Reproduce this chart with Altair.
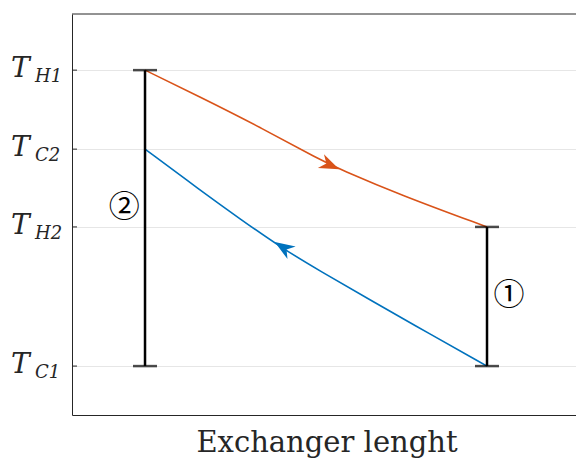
import altair as alt
import pandas as pd

# ---- data ----
pos_hot = [0.0, 0.161, 0.336, 0.512, 0.570, 0.746, 1.0]
temp_hot = [86.0, 79.3, 71.8, 63.6, 61.3, 54.9, 46.9]
pos_cold = [0.0, 0.161, 0.278, 0.395, 0.512, 0.658, 0.833, 1.0]
temp_cold = [66.3, 56.1, 48.9, 41.9, 35.9, 28.7, 20.2, 12.2]

tick_sub = ["H1", "C2", "H2", "C1"]
tick_vals = [86.0, 66.3, 46.9, 12.2]

bar_pos = [0.0, 1.0]
bar_low = [12.2, 12.2]
bar_high = [86.0, 46.9]
bar_label = ["②", "①"]
bar_label_x = [-0.061, 1.064]
bar_label_y = [52.4, 30.4]

arrow_hot = {"x": [0.541], "y": [62.3]}
arrow_cold = {"x": [0.404], "y": [41.8]}

RED = "#D95319"
BLUE = "#0072BD"
AX = "#262626"
SERIF = "DejaVu Serif"

xs = alt.Scale(domain=[-0.2135, 1.2602], nice=False, zero=False)
ys = alt.Scale(domain=[0, 100], nice=False, zero=False)

hot = pd.DataFrame({"x": pos_hot, "y": temp_hot})
cold = pd.DataFrame({"x": pos_cold, "y": temp_cold})
ticks = pd.DataFrame({"sub": tick_sub, "y": tick_vals, "T": ["T"] * len(tick_vals)})
bars = pd.DataFrame({"x": bar_pos, "lo": bar_low, "hi": bar_high})
labels = pd.DataFrame({"x": bar_label_x, "y": bar_label_y, "t": bar_label})
title_df = pd.DataFrame({"t": ["Exchanger lenght"]})

base_x = alt.X("x:Q", scale=xs, axis=alt.Axis(domain=True, domainColor=AX, ticks=False,
                                              labels=False, grid=False, title=None))
base_y = alt.Y("y:Q", scale=ys, axis=alt.Axis(values=tick_vals, domain=True, domainColor=AX,
                                              ticks=False, labels=False, grid=True,
                                              gridColor="#e6e6e6", title=None))

grid = alt.Chart(ticks).mark_point(opacity=0).encode(x=alt.value(0), y=base_y)
xaxis = alt.Chart(hot).mark_point(opacity=0).encode(x=base_x, y=alt.Y("y:Q", scale=ys))

tick_marks = alt.Chart(ticks).mark_rule(color=AX, strokeWidth=1).encode(
    x=alt.value(0), x2=alt.value(5), y=alt.Y("y:Q", scale=ys))
top_line = alt.Chart(title_df).mark_rule(color=AX, strokeWidth=1).encode(
    x=alt.value(0), x2=alt.value(504), y=alt.value(0))

hot_line = alt.Chart(hot).mark_line(color=RED, strokeWidth=1.6, interpolate="basis").encode(
    x=alt.X("x:Q", scale=xs), y=alt.Y("y:Q", scale=ys))
cold_line = alt.Chart(cold).mark_line(color=BLUE, strokeWidth=1.6, interpolate="basis").encode(
    x=alt.X("x:Q", scale=xs), y=alt.Y("y:Q", scale=ys))

ARROW = "M 1 0 L -1 -0.75 L -0.4 0 L -1 0.75 Z"
hot_arrow = alt.Chart(pd.DataFrame(arrow_hot)).mark_point(
    shape=ARROW, size=400, filled=True, color=RED, opacity=1, angle=24).encode(
    x=alt.X("x:Q", scale=xs), y=alt.Y("y:Q", scale=ys))
cold_arrow = alt.Chart(pd.DataFrame(arrow_cold)).mark_point(
    shape=ARROW, size=400, filled=True, color=BLUE, opacity=1, angle=213).encode(
    x=alt.X("x:Q", scale=xs), y=alt.Y("y:Q", scale=ys))

bar_rules = alt.Chart(bars).mark_rule(color="black", strokeWidth=2.5).encode(
    x=alt.X("x:Q", scale=xs), y=alt.Y("lo:Q", scale=ys), y2="hi:Q")
cap_lo = alt.Chart(bars).mark_tick(color="black", orient="horizontal", size=24, thickness=2.5).encode(
    x=alt.X("x:Q", scale=xs), y=alt.Y("lo:Q", scale=ys))
cap_hi = alt.Chart(bars).mark_tick(color="black", orient="horizontal", size=24, thickness=2.5).encode(
    x=alt.X("x:Q", scale=xs), y=alt.Y("hi:Q", scale=ys))

circ = alt.Chart(labels).mark_text(font="Noto Sans CJK JP", fontSize=31, baseline="middle",
                                   align="center", dy=3, color="black").encode(
    x=alt.X("x:Q", scale=xs), y=alt.Y("y:Q", scale=ys), text="t:N")

t_big = alt.Chart(ticks).mark_text(font=SERIF, fontSize=28, fontStyle="italic", align="left",
                                   baseline="alphabetic", dy=7, color=AX).encode(
    x=alt.value(-61), y=alt.Y("y:Q", scale=ys), text="T:N")
t_sub = alt.Chart(ticks).mark_text(font=SERIF, fontSize=18, fontStyle="italic", align="left",
                                   baseline="alphabetic", dy=12, color=AX).encode(
    x=alt.value(-37), y=alt.Y("y:Q", scale=ys), text="sub:N")

xtitle = alt.Chart(title_df).mark_text(font=SERIF, fontSize=29, align="center",
                                       baseline="alphabetic", color=AX).encode(
    x=alt.value(255), y=alt.value(438), text="t:N")

chart = alt.layer(
    grid, xaxis, tick_marks, top_line, hot_line, cold_line, hot_arrow, cold_arrow,
    bar_rules, cap_lo, cap_hi, circ, t_big, t_sub, xtitle
).properties(
    width=504, height=401,
    autosize=alt.AutoSizeParams(type="none"),
    padding={"left": 72, "top": 14, "right": 0, "bottom": 44},
    background="white",
).configure_view(stroke=None)

chart.save("out.html", embed_options={"renderer": "svg", "actions": False})
